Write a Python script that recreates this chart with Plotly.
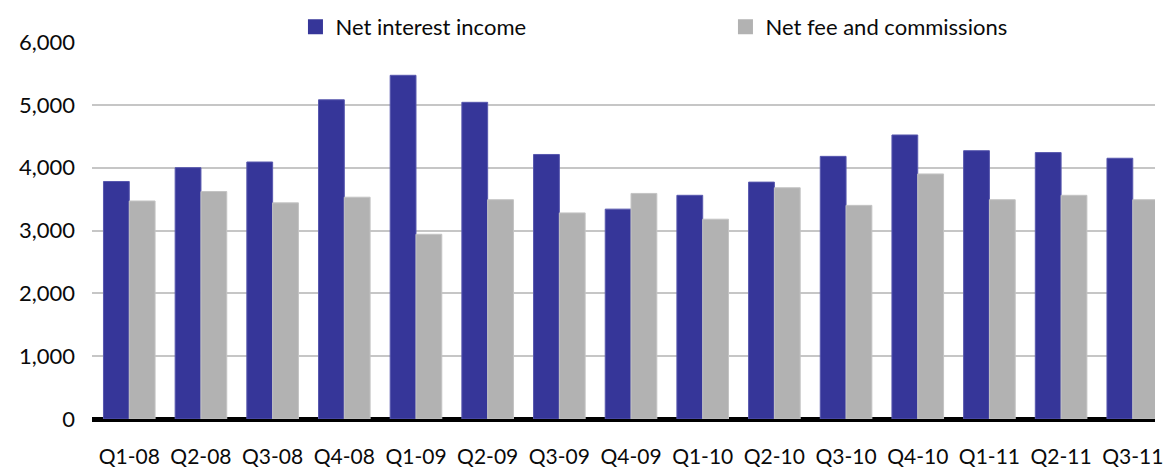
import plotly.graph_objects as go

quarters = ["Q1-08", "Q2-08", "Q3-08", "Q4-08", "Q1-09", "Q2-09", "Q3-09", "Q4-09",
            "Q1-10", "Q2-10", "Q3-10", "Q4-10", "Q1-11", "Q2-11", "Q3-11"]
net_interest_income = [3780, 4000, 4090, 5080, 5470, 5040, 4210, 3340,
                        3560, 3770, 4180, 4520, 4270, 4240, 4150]
net_fee_commissions = [3470, 3620, 3440, 3530, 2940, 3490, 3280, 3590,
                       3180, 3680, 3400, 3900, 3490, 3560, 3490]
y_ticks = [0, 1000, 2000, 3000, 4000, 5000, 6000]

BLUE = "#363699"
GREY = "#B2B2B2"
FONT = "Lato"

fig = go.Figure()
fig.add_trace(go.Bar(x=quarters, y=net_interest_income, name="Net interest income",
                     marker=dict(color=BLUE, line=dict(color="#5858AE", width=1)),
                     showlegend=False))
fig.add_trace(go.Bar(x=quarters, y=net_fee_commissions, name="Net fee and commissions",
                     marker=dict(color=GREY, line=dict(color="#C4C4C4", width=1)),
                     showlegend=False))
# legend entries with larger square swatches
fig.add_trace(go.Scatter(x=[None], y=[None], mode="markers", name="Net interest income",
                         marker=dict(symbol="square", size=15, color=BLUE)))
fig.add_trace(go.Scatter(x=[None], y=[None], mode="markers", name="Net fee and commissions",
                         marker=dict(symbol="square", size=15, color=GREY)))

fig.update_layout(
    width=1163, height=471,
    margin=dict(l=92, r=0, t=42, b=52),
    paper_bgcolor="white", plot_bgcolor="white",
    barmode="group", bargap=0.28, bargroupgap=0,
    font=dict(family=FONT, size=22, color="#0A0A0A"),
    legend=dict(orientation="h", x=0.1914, xanchor="left", y=1.04, yanchor="middle",
                entrywidth=385, entrywidthmode="pixels", itemclick=False,
                font=dict(family=FONT, size=22, color="#0A0A0A"),
                bgcolor="rgba(0,0,0,0)"),
    xaxis=dict(type="category", range=[-0.52, 14.31], showgrid=False, showline=False,
               ticks="", ticklabelstandoff=23, tickfont=dict(size=21)),
    yaxis=dict(range=[0, 6000], tickvals=y_ticks, tickformat=",d",
               showgrid=True, gridcolor="#C6C6C6", gridwidth=2,
               zeroline=True, zerolinecolor="black", zerolinewidth=5,
               showline=False, ticks="", ticklabelstandoff=16, tickfont=dict(size=22)),
)

fig.write_html("out.html", config={"displayModeBar": False},
               post_script="document.body.style.margin='0px';")
